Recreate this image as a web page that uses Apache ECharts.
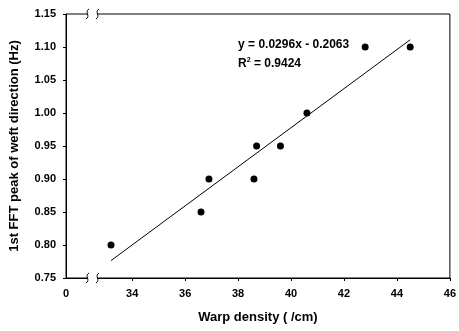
<!DOCTYPE html>
<html>
<head>
<meta charset="utf-8">
<script src="https://cdn.jsdelivr.net/npm/echarts@6/dist/echarts.min.js"></script>
<style>
  html, body { margin: 0; padding: 0; background: #fff; }
  #chart { width: 459px; height: 331px; }
</style>
</head>
<body>
<div id="chart"></div>
<script>
// Warp density (/cm) against the first FFT peak in the weft direction (Hz)
var warpDensity = [33.2, 36.6, 36.9, 38.6, 38.7, 39.6, 40.6, 42.8, 44.5];
var peakFreq    = [0.80, 0.85, 0.90, 0.90, 0.95, 0.95, 1.00, 1.10, 1.10];

// Linear fit reported on the plot
var fitSlope = 0.0296;
var fitIntercept = -0.2063;
var fitR2 = 0.9424;

// Axis ticks; the x axis is broken between 0 and 34
var xAxisStart = 31.5;
var xTickValues = [34, 36, 38, 40, 42, 44, 46];
var xBreakAt = 32.5;

var font = "'Liberation Sans', Arial, Helvetica, sans-serif";

var points = warpDensity.map(function (x, i) { return [x, peakFreq[i]]; });
var xMin = Math.min.apply(null, warpDensity);
var xMax = Math.max.apply(null, warpDensity);
var fitLine = [xMin, xMax].map(function (x) { return [x, fitSlope * x + fitIntercept]; });

var chart = echarts.init(document.getElementById('chart'));

chart.setOption({
  animation: false,
  backgroundColor: '#fff',
  grid: {
    left: 63, right: 7, top: 14, bottom: 53,
    show: true, borderColor: '#000', borderWidth: 1, backgroundColor: 'transparent'
  },
  xAxis: {
    type: 'value',
    min: xAxisStart,
    max: 46,
    name: 'Warp density ( /cm)',
    nameLocation: 'middle',
    nameGap: 33,
    nameTextStyle: { fontFamily: font, fontSize: 13, fontWeight: 'bold', color: '#000' },
    axisLine: { show: true, onZero: false, lineStyle: { color: '#000', width: 1 } },
    axisTick: { show: true, inside: false, length: 3, customValues: xTickValues, lineStyle: { color: '#000' } },
    axisLabel: {
      customValues: [xAxisStart].concat(xTickValues),
      formatter: function (v) { return v === xAxisStart ? '0' : String(v); },
      fontFamily: font, fontSize: 11, fontWeight: 'bold', color: '#000', margin: 10
    },
    splitLine: { show: false }
  },
  yAxis: {
    type: 'value',
    min: 0.75,
    max: 1.15,
    interval: 0.05,
    name: '1st FFT peak of weft direction (Hz)',
    nameLocation: 'middle',
    nameGap: 45,
    nameTextStyle: { fontFamily: font, fontSize: 13, fontWeight: 'bold', color: '#000' },
    axisLine: { show: true, lineStyle: { color: '#000', width: 1 } },
    axisTick: { show: true, inside: false, length: 3, lineStyle: { color: '#000' } },
    axisLabel: {
      formatter: function (v) { return v.toFixed(2); },
      fontFamily: font, fontSize: 11, fontWeight: 'bold', color: '#000', margin: 10
    },
    splitLine: { show: false }
  },
  series: [
    {
      type: 'line',
      data: fitLine,
      symbol: 'none',
      lineStyle: { color: '#000', width: 1 },
      silent: true,
      z: 2
    },
    {
      type: 'scatter',
      data: points,
      symbol: 'circle',
      symbolSize: 7,
      itemStyle: { color: '#000', opacity: 1 },
      z: 3
    }
  ]
});

// Fit equation and the axis-break marks, placed from the axis scales
function drawOverlay() {
  var eqPos = chart.convertToPixel({ gridIndex: 0 }, [38.0, 1.095]);
  var bottom = chart.convertToPixel({ gridIndex: 0 }, [xBreakAt, 0.75]);
  var top = chart.convertToPixel({ gridIndex: 0 }, [xBreakAt, 1.15]);

  function curl(x, cy) {
    return {
      type: 'bezierCurve',
      shape: {
        x1: x + 1.5, y1: cy - 5,
        cpx1: x - 3.5, cpy1: cy - 2,
        cpx2: x + 3.5, cpy2: cy + 2,
        x2: x - 1.5, y2: cy + 5
      },
      style: { stroke: '#000', lineWidth: 1, fill: null },
      z: 11
    };
  }

  function breakMark(cx, cy) {
    return [
      { type: 'rect', shape: { x: cx - 5, y: cy - 2, width: 10, height: 4 }, style: { fill: '#fff' }, z: 10 },
      curl(cx - 5, cy),
      curl(cx + 5, cy)
    ];
  }

  chart.setOption({
    graphic: [
      {
        type: 'text', x: eqPos[0], y: eqPos[1] - 12,
        style: {
          text: 'y = ' + fitSlope + 'x - ' + Math.abs(fitIntercept).toFixed(4),
          font: 'bold 12px ' + font, fill: '#000'
        }, z: 12
      },
      {
        type: 'text', x: eqPos[0], y: eqPos[1] + 6,
        style: {
          text: '{r|R}{s|2}{r| = ' + fitR2 + '}',
          rich: {
            r: { fontFamily: font, fontSize: 12, fontWeight: 'bold', fill: '#000', lineHeight: 14 },
            s: { fontFamily: font, fontSize: 7, fontWeight: 'bold', fill: '#000', lineHeight: 14, verticalAlign: 'top' }
          }
        }, z: 12
      }
    ].concat(breakMark(bottom[0], bottom[1])).concat(breakMark(top[0], top[1]))
  });
}
drawOverlay();
</script>
</body>
</html>
